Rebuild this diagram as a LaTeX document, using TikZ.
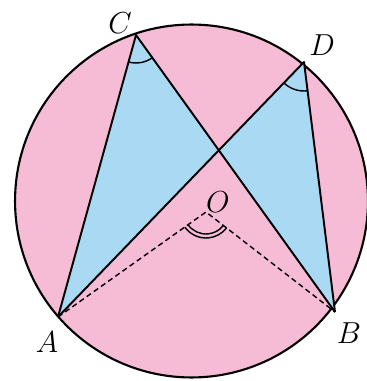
\documentclass[tikz,border=0pt]{standalone}
\usepackage{tikz}
\usetikzlibrary{angles, calc}

\definecolor{rosefill}{HTML}{F6BBD5}
\definecolor{skyfill}{HTML}{A9D9F3}

\begin{document}
\begin{tikzpicture}[x=0.02cm, y=-0.02cm, line join=round,
    ptlabel/.style={font=\fontsize{16}{18}\selectfont, inner sep=0pt},
    anglemark/.style={draw, line width=0.8pt}]
    \useasboundingbox (0, 0) rectangle (367, 381);
    % Các điểm trên đường tròn và điểm O
    \coordinate (M) at (191.5, 201);
    \coordinate (A) at (58, 317);
    \coordinate (B) at (335, 312);
    \coordinate (C) at (136, 35);
    \coordinate (D) at (304, 62);
    \coordinate (O) at (206, 212);
    \coordinate (X) at (intersection of A--D and B--C);

    % Hình tròn tô màu hồng
    \filldraw[fill=rosefill, draw=black, line width=1.2pt] (M) circle[radius=3.53cm];

    % Hai tam giác tô màu xanh
    \fill[skyfill] (A) -- (C) -- (X) -- cycle;
    \fill[skyfill] (B) -- (D) -- (X) -- cycle;

    % Các dây cung
    \draw[line width=1.1pt] (A) -- (C) -- (B);
    \draw[line width=1.1pt] (A) -- (D) -- (B);

    % Bán kính nét đứt
    \draw[densely dashed, line width=0.8pt] (A) -- (O) -- (B);

    % Kí hiệu góc
    \pic[anglemark, angle radius=0.56cm] {angle = A--C--B};
    \pic[anglemark, angle radius=0.58cm] {angle = A--D--B};
    \pic[anglemark, angle radius=0.44cm] {angle = A--O--B};
    \pic[anglemark, angle radius=0.52cm] {angle = A--O--B};

    % Tên các điểm
    \node[ptlabel] (lA) at (47, 342) {$A$};
    \node[ptlabel] (lB) at (349, 333) {$B$};
    \node[ptlabel] (lC) at (120, 23) {$C$};
    \node[ptlabel] (lD) at (322, 45) {$D$};
    \node[ptlabel] (lO) at (218, 202) {$O$};
\end{tikzpicture}
\end{document}
